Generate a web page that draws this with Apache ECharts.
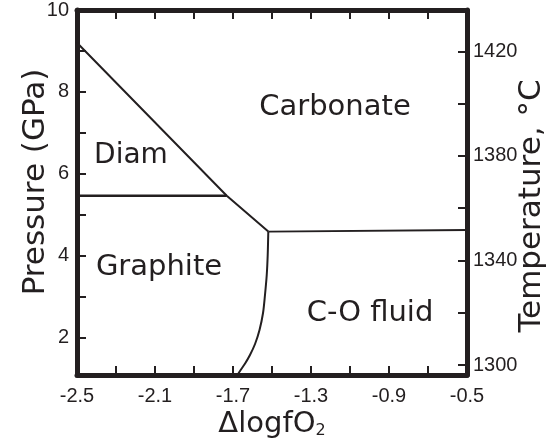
<!DOCTYPE html>
<html>
<head>
<meta charset="utf-8">
<script src="https://cdn.jsdelivr.net/npm/echarts@6/dist/echarts.min.js"></script>
<style>
html,body{margin:0;padding:0;background:#fff;}
#c{width:550px;height:441px;}
</style>
</head>
<body>
<div id="c"></div>
<script>
// ---- data ----
const xTickValues = [-2.3, -2.1, -1.9, -1.7, -1.5, -1.3, -1.1, -0.9, -0.7];
const xLabelValues = [-2.5, -2.1, -1.7, -1.3, -0.9, -0.5];
const yTickValues = [2, 3, 4, 5, 6, 7, 8, 9];
const yLabelValues = [2, 4, 6, 8, 10];
const tTickValues = [1300, 1320, 1340, 1360, 1380, 1400, 1420];
const tLabelValues = [1300, 1340, 1380, 1420];

// diamond/carbonate + graphite/carbonate boundary
const upperX = [-2.5, -1.732, -1.519];
const upperY = [9.20, 5.46, 4.585];
// diamond/graphite boundary
const dgX = [-2.5, -1.732];
const dgY = [5.46, 5.46];
// carbonate / C-O fluid boundary
const cfX = [-1.519, -0.5];
const cfY = [4.585, 4.624];
// graphite / C-O fluid boundary (curve)
const gfX = [-1.519, -1.522, -1.527, -1.536, -1.546, -1.564, -1.587, -1.613, -1.638, -1.664, -1.677];
const gfY = [4.585, 4.013, 3.524, 3.035, 2.595, 2.180, 1.838, 1.569, 1.361, 1.178, 1.08];

const fieldLabels = ['Carbonate', 'Diam', 'Graphite', 'C-O fluid'];

const pair = (xs, ys) => xs.map((x, i) => [x, ys[i]]);

const ink = '#231f20';
const tickFont = '"Liberation Sans", Arial, sans-serif';
const bigFont = '"Comic Sans MS", "DejaVu Sans", sans-serif';

const chart = echarts.init(document.getElementById('c'), null, {renderer: 'canvas'});

function xAxisBase(pos, showLabel) {
  return {
    type: 'value', position: pos, min: -2.5, max: -0.5,
    axisLine: {show: true, onZero: false, lineStyle: {color: ink, width: 5}},
    axisTick: {show: true, inside: true, length: 9, customValues: xTickValues, lineStyle: {color: ink, width: 2}},
    axisLabel: {show: showLabel, customValues: xLabelValues, margin: 11, color: ink, fontSize: 20, fontFamily: tickFont,
      formatter: v => v.toFixed(1)},
    splitLine: {show: false}
  };
}

const option = {
  animation: false,
  grid: {left: 77, right: 83, top: 10, bottom: 66, containLabel: false},
  xAxis: [xAxisBase('bottom', true), xAxisBase('top', false)],
  yAxis: [
    {
      type: 'value', position: 'left', min: 1.08, max: 10,
      axisLine: {show: true, onZero: false, lineStyle: {color: ink, width: 5}},
      axisTick: {show: true, inside: true, length: 9, customValues: yTickValues, lineStyle: {color: ink, width: 2}},
      axisLabel: {show: true, customValues: yLabelValues, margin: 8, color: ink, fontSize: 20, fontFamily: tickFont,
        formatter: v => String(Math.round(v))},
      splitLine: {show: false}
    },
    {
      type: 'value', position: 'right', min: 1296.2, max: 1435.8,
      axisLine: {show: true, onZero: false, lineStyle: {color: ink, width: 5}},
      axisTick: {show: true, inside: true, length: 9, customValues: tTickValues, lineStyle: {color: ink, width: 2}},
      axisLabel: {show: true, customValues: tLabelValues, margin: 6, color: ink, fontSize: 20, fontFamily: tickFont,
        formatter: v => String(Math.round(v))},
      splitLine: {show: false}
    }
  ],
  series: [
    {type: 'line', data: pair(upperX, upperY), showSymbol: false, symbol: 'none', lineStyle: {color: ink, width: 2}, silent: true},
    {type: 'line', data: pair(dgX, dgY), showSymbol: false, symbol: 'none', lineStyle: {color: ink, width: 2.6}, silent: true},
    {type: 'line', data: pair(cfX, cfY), showSymbol: false, symbol: 'none', lineStyle: {color: ink, width: 1.8}, silent: true},
    {type: 'line', data: pair(gfX, gfY), showSymbol: false, symbol: 'none', smooth: 0.3, lineStyle: {color: ink, width: 2}, silent: true}
  ],
  graphic: [
    {type: 'text', x: 335, y: 107, style: {text: fieldLabels[0], font: '29px ' + bigFont, fill: ink, textAlign: 'center', textVerticalAlign: 'middle'}},
    {type: 'text', x: 131, y: 156, style: {text: fieldLabels[1], font: '28px ' + bigFont, fill: ink, textAlign: 'center', textVerticalAlign: 'middle'}},
    {type: 'text', x: 159, y: 267, style: {text: fieldLabels[2], font: '29px ' + bigFont, fill: ink, textAlign: 'center', textVerticalAlign: 'middle'}},
    {type: 'text', x: 370, y: 313, style: {text: fieldLabels[3], font: '29px ' + bigFont, fill: ink, textAlign: 'center', textVerticalAlign: 'middle'}},
    {type: 'text', x: 36, y: 182, rotation: Math.PI / 2, style: {text: 'Pressure (GPa)', font: '31px ' + bigFont, fill: ink, textAlign: 'center', textVerticalAlign: 'middle'}},
    {type: 'text', x: 532, y: 206, rotation: Math.PI / 2, style: {text: 'Temperature, °C', font: '31px ' + bigFont, fill: ink, textAlign: 'center', textVerticalAlign: 'middle'}},
    {type: 'text', x: 272, y: 424, style: {
      text: '{a|ΔlogfO}{b|2}', textAlign: 'center', textVerticalAlign: 'middle',
      rich: {
        a: {font: '29px ' + bigFont, fill: ink, color: ink},
        b: {font: '16px ' + bigFont, fill: ink, color: ink, padding: [14, 0, 0, 0]}
      }
    }}
  ]
};
chart.setOption(option);
</script>
</body>
</html>
